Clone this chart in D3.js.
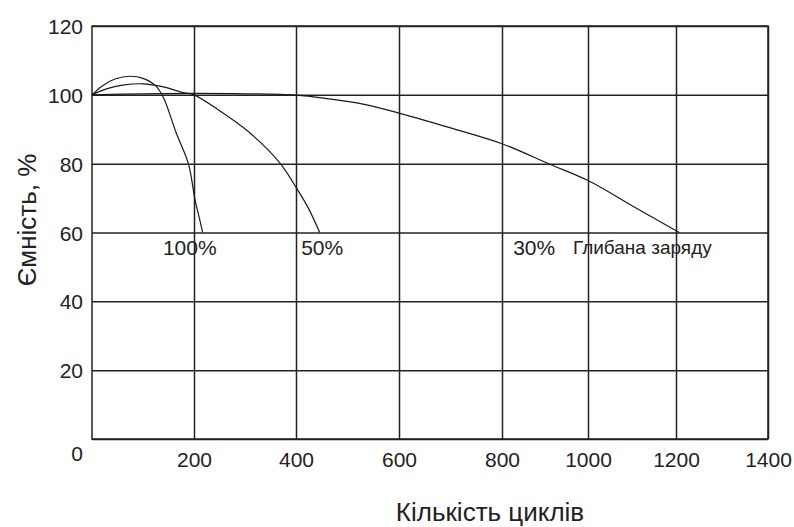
<!DOCTYPE html>
<html>
<head>
<meta charset="utf-8">
<script src="https://cdn.jsdelivr.net/npm/d3@7"></script>
<style>
  body { margin: 0; background: #fff; }
  svg text { fill: #222; }
</style>
</head>
<body>
<svg id="chart"></svg>
<script>
// Tick values on both axes
var xTicks = [0, 200, 400, 600, 800, 1000, 1200, 1400];
var yTicks = [0, 20, 40, 60, 80, 100, 120];

// Curves: [cycles, capacity %]
var depth100 = [[0,100],[20,102.6],[45,104.6],[75,105.4],[100,104.8],[125,102.6],[140,99.2],[165,89],[189,80],[202,69.5],[210,64.5],[217,60]];
var depth50 = [[0,100],[30,101.8],[60,102.8],[100,103.2],[140,102.3],[180,100.6],[200,100],[248,95.6],[310,88.9],[369,80.1],[401,72.9],[425,66.8],[446,60]];
var depth30 = [[0,100],[100,100.3],[200,100.4],[300,100.3],[400,99.9],[460,98.9],[530,97.3],[600,94.7],[700,90.4],[800,85.8],[910,79.9],[1000,75.1],[1100,67.8],[1207,60]];

var curveNames = ["100%", "50%", "30%"];
var depthNote = "Глибана заряду";
var xTitle = "Кількість циклів";
var yTitle = "Ємність, %";

// Layout
var width = 794, height = 527;
var plotTop = 26, plotBottom = 439;
// the grid in the original is drawn unevenly, so x uses one stop per tick
var xStops = [92, 194, 296, 399, 502, 588, 676, 768];

var chart = d3.select('#chart')
  .attr('width', width)
  .attr('height', height);

var xScale = d3.scaleLinear()
  .domain(xTicks)
  .range(xStops);

var yScale = d3.scaleLinear()
  .domain([0, 120])
  .range([plotBottom, plotTop]);

var tickFont = '"Liberation Sans Narrow", "Liberation Sans", Arial, sans-serif';
var titleFont = '"Liberation Sans", Arial, sans-serif';

// Gridlines + labels for y
var yAxis = chart.append('g')
  .attr('id', 'y-axis')
  .attr('transform', 'translate(' + xStops[0] + ',0)')
  .call(d3.axisLeft(yScale)
    .tickValues(yTicks)
    .tickFormat(d3.format('d'))
    .tickSize(-(xStops[xStops.length - 1] - xStops[0]))
    .tickPadding(9));
yAxis.select('.domain').remove();
yAxis.selectAll('line').attr('stroke', '#222').attr('stroke-width', 1.5);
yAxis.selectAll('text')
  .style('font-family', tickFont)
  .style('font-size', '21px')
  .attr('fill', '#222')
  .attr('dy', function(d) { return d === 0 ? '1.0em' : '0.36em'; });

// Gridlines + labels for x (0 is shown by the y axis)
var xAxis = chart.append('g')
  .attr('id', 'x-axis')
  .attr('transform', 'translate(0,' + plotBottom + ')')
  .call(d3.axisBottom(xScale)
    .tickValues(xTicks.slice(1))
    .tickFormat(d3.format('d'))
    .tickSize(-(plotBottom - plotTop))
    .tickPadding(13));
xAxis.select('.domain').remove();
xAxis.selectAll('line').attr('stroke', '#222').attr('stroke-width', 1.5);
xAxis.selectAll('text')
  .style('font-family', tickFont)
  .style('font-size', '21px')
  .attr('fill', '#222');

// Frame
chart.append('rect')
  .attr('x', xScale(0))
  .attr('y', yScale(120))
  .attr('width', xScale(1400) - xScale(0))
  .attr('height', yScale(0) - yScale(120))
  .attr('fill', 'none')
  .attr('stroke', '#222')
  .attr('stroke-width', 1.5);

// Curves
var line = d3.line()
  .x(function(d) { return xScale(d[0]); })
  .y(function(d) { return yScale(d[1]); })
  .curve(d3.curveCatmullRom.alpha(0.5));

chart.append('g')
  .attr('id', 'curves')
  .selectAll('path')
  .data([depth100, depth50, depth30])
  .enter().append('path')
    .attr('d', line)
    .attr('fill', 'none')
    .attr('stroke', '#1a1a1a')
    .attr('stroke-width', 1.2);

// Labels under the curve ends
var labelCycles = [139, 410, 826];
chart.append('g')
  .selectAll('text')
  .data(curveNames)
  .enter().append('text')
    .attr('x', function(d, i) { return xScale(labelCycles[i]); })
    .attr('y', yScale(60) + 22)
    .style('font-family', tickFont)
    .style('font-size', '21px')
    .text(function(d) { return d; });

chart.append('text')
  .attr('x', xScale(965))
  .attr('y', yScale(60) + 21)
  .style('font-family', titleFont)
  .style('font-size', '19px')
  .text(depthNote);

// Axis titles
chart.append('text')
  .attr('x', 490)
  .attr('y', 521)
  .attr('text-anchor', 'middle')
  .style('font-family', titleFont)
  .style('font-size', '26px')
  .text(xTitle);

chart.append('text')
  .attr('transform', 'translate(36,220) rotate(-90)')
  .attr('text-anchor', 'middle')
  .style('font-family', titleFont)
  .style('font-size', '26px')
  .text(yTitle);
</script>
</body>
</html>
